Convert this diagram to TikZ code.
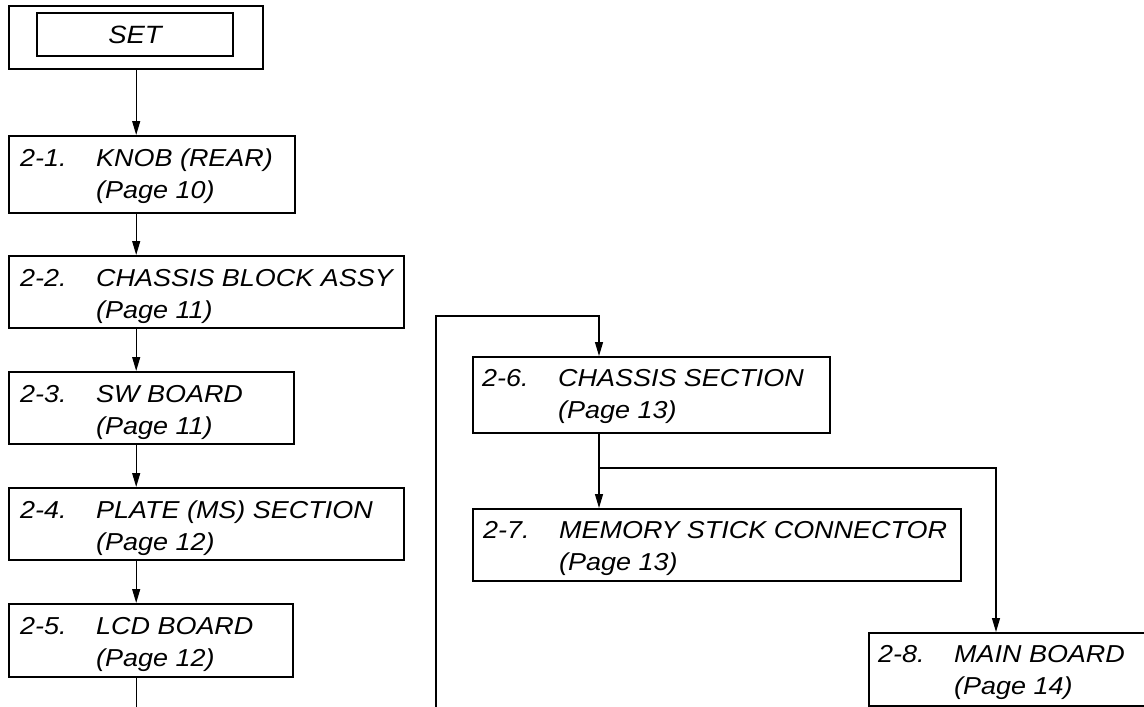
\documentclass[tikz,border=0pt]{standalone}
\usepackage{fontspec}
\usetikzlibrary{arrows.meta,calc}
\newfontfamily\lbfont[FakeStretch=1.1]{Liberation Sans}
\newcommand{\boxtext}[3]{\begin{tabular}[t]{@{}p{76pt}@{}l@{}}#1&#2\\&#3\end{tabular}}
\tikzset{
  box/.style={draw, line width=1.9pt, anchor=north west, inner sep=0pt},
  lbl/.style={anchor=base west, inner sep=0pt, font=\lbfont\itshape\fontsize{24.5}{32.5}\selectfont},
  conn/.style={line width=1.2pt},
  arr/.style={conn, -{Triangle[length=14pt,width=8pt]}}
}
\begin{document}
\begin{tikzpicture}[x=1pt,y=-1pt]
\useasboundingbox (0,0) rectangle (1144,707);
% SET
\node[box, line width=2.4pt, minimum width=254pt, minimum height=63pt] (set) at (8,5) {};
\node[draw, line width=1.2pt, minimum width=196pt, minimum height=43pt, inner sep=0pt,
      font=\lbfont\itshape\fontsize{25}{33}\selectfont] (setin) at (135,34.5) {SET};
% boxes
\node[box, minimum width=286pt, minimum height=77pt] (b1) at (8,135) {};
\node[box, minimum width=395pt, minimum height=72pt] (b2) at (8,255) {};
\node[box, minimum width=285pt, minimum height=72pt] (b3) at (8,371) {};
\node[box, minimum width=395pt, minimum height=72pt] (b4) at (8,487) {};
\node[box, minimum width=284pt, minimum height=73pt] (b5) at (8,603) {};
\node[box, minimum width=357pt, minimum height=76pt] (b6) at (472,356) {};
\node[box, minimum width=488pt, minimum height=72pt] (b7) at (472,508) {};
\node[box, minimum width=290pt, minimum height=73pt] (b8) at (868,632) {};
% texts
\node[lbl] (t1) at ($(b1.north west)+(12,31)$) {\boxtext{2-1.}{KNOB (REAR)}{(Page 10)}};
\node[lbl] (t2) at ($(b2.north west)+(12,31)$) {\boxtext{2-2.}{CHASSIS BLOCK ASSY}{(Page 11)}};
\node[lbl] (t3) at ($(b3.north west)+(12,31)$) {\boxtext{2-3.}{SW BOARD}{(Page 11)}};
\node[lbl] (t4) at ($(b4.north west)+(12,31)$) {\boxtext{2-4.}{PLATE (MS) SECTION}{(Page 12)}};
\node[lbl] (t5) at ($(b5.north west)+(12,31)$) {\boxtext{2-5.}{LCD BOARD}{(Page 12)}};
\node[lbl] (t6) at ($(b6.north west)+(10,30)$) {\boxtext{2-6.}{CHASSIS SECTION}{(Page 13)}};
\node[lbl] (t7) at ($(b7.north west)+(11,30)$) {\boxtext{2-7.}{MEMORY STICK CONNECTOR}{(Page 13)}};
\node[lbl] (t8) at ($(b8.north west)+(10,30)$) {\boxtext{2-8.}{MAIN BOARD}{(Page 14)}};
% connectors, left column
\draw[arr] (set.south) -- (set.south |- b1.north);
\draw[arr] (b1.south -| set.south) -- (set.south |- b2.north);
\draw[arr] (b2.south -| set.south) -- (set.south |- b3.north);
\draw[arr] (b3.south -| set.south) -- (set.south |- b4.north);
\draw[arr] (b4.south -| set.south) -- (set.south |- b5.north);
\coordinate (end1) at (135,712);
\draw[conn] (b5.south -| set.south) -- (set.south |- end1);
% right part
\coordinate (c1) at (436,712);
\coordinate (top) at (599,316);
\coordinate (br) at (599,468);
\coordinate (rr) at (996,468);
\draw[arr] (c1) |- (top) -- (top |- b6.north);
\draw[arr] (b6.south -| top) -- (b7.north -| top);
\draw[arr] (br) -- (rr) -- (rr |- b8.north);
\end{tikzpicture}
\end{document}
